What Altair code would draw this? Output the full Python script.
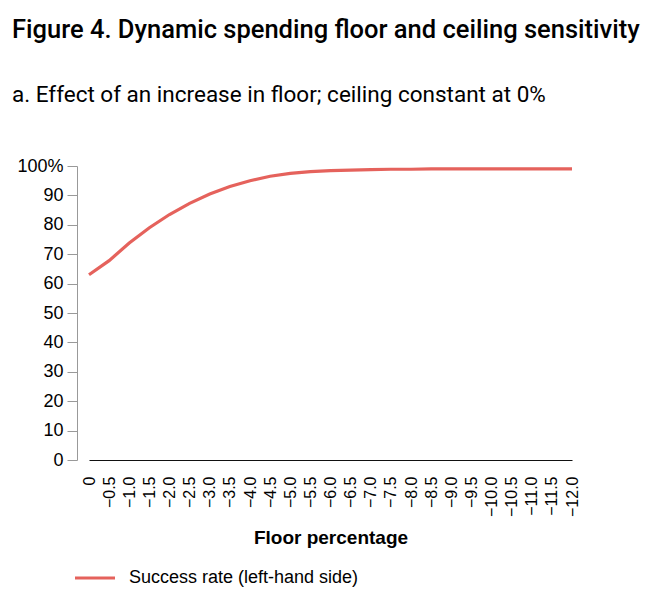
import altair as alt
import pandas as pd

floor_labels = ["0", "−0.5", "−1.0", "−1.5", "−2.0", "−2.5", "−3.0", "−3.5", "−4.0",
                "−4.5", "−5.0", "−5.5", "−6.0", "−6.5", "−7.0", "−7.5", "−8.0", "−8.5",
                "−9.0", "−9.5", "−10.0", "−10.5", "−11.0", "−11.5", "−12.0"]
success_rate = [63.0, 67.8, 73.8, 79.0, 83.5, 87.3, 90.5, 93.0, 95.0, 96.5, 97.5, 98.1,
                98.4, 98.6, 98.8, 98.9, 98.9, 99.0, 99.0, 99.0, 99.0, 99.0, 99.0, 99.0, 99.0]
series_name = "Success rate (left-hand side)"

df = pd.DataFrame({"floor": floor_labels, "rate": success_rate, "series": series_name})

FONT = "Liberation Sans"
TFONT = "Roboto"

chart = alt.Chart(df).mark_line(strokeWidth=3.2).encode(
    x=alt.X("floor:O", sort=None, scale=alt.Scale(type="point", range=[12, 495], padding=0),
            axis=alt.Axis(title="Floor percentage", labelAngle=-90, ticks=False,
                          labelPadding=16, labelFontSize=16, labelColor="#000",
                          domainColor="#111", domainWidth=1.2,
                          titleFontSize=19, titleFontWeight="bold", titlePadding=12,
                          titleColor="#000")),
    y=alt.Y("rate:Q", scale=alt.Scale(domain=[0, 100], nice=False),
            axis=alt.Axis(title=None, values=list(range(0, 101, 10)),
                          labelExpr="datum.value == 100 ? '100%' : datum.label",
                          tickSize=10, tickColor="#999", domainColor="#999",
                          labelFontSize=18, labelColor="#000", labelPadding=4,
                          grid=False)),
    color=alt.Color("series:N", scale=alt.Scale(range=["#e5625c"]),
                    legend=alt.Legend(title=None, orient="none", legendX=-4, legendY=390,
                                      symbolType="stroke", symbolSize=1600,
                                      symbolStrokeWidth=3.2, labelFontSize=18,
                                      labelLimit=0,
                                      labelColor="#000", labelOffset=12)),
).properties(
    width=521,
    height=294,
    title=alt.Title(
        text="Figure 4. Dynamic spending floor and ceiling sensitivity",
        subtitle="a. Effect of an increase in floor; ceiling constant at 0%",
        anchor="start", frame="group", dx=-65,
        fontSize=25.5, fontWeight=500, color="#000",
        subtitleFontSize=22.5, subtitleColor="#000", subtitlePadding=40,
        offset=51, font=TFONT, subtitleFont=TFONT,
    ),
    autosize=alt.AutoSizeParams(type="none"),
    padding={"left": 69, "top": 158, "right": 44, "bottom": 142},
).configure(font=FONT).configure_view(stroke=None)

chart.save("out.html", embed_options={"renderer": "svg", "actions": False})
